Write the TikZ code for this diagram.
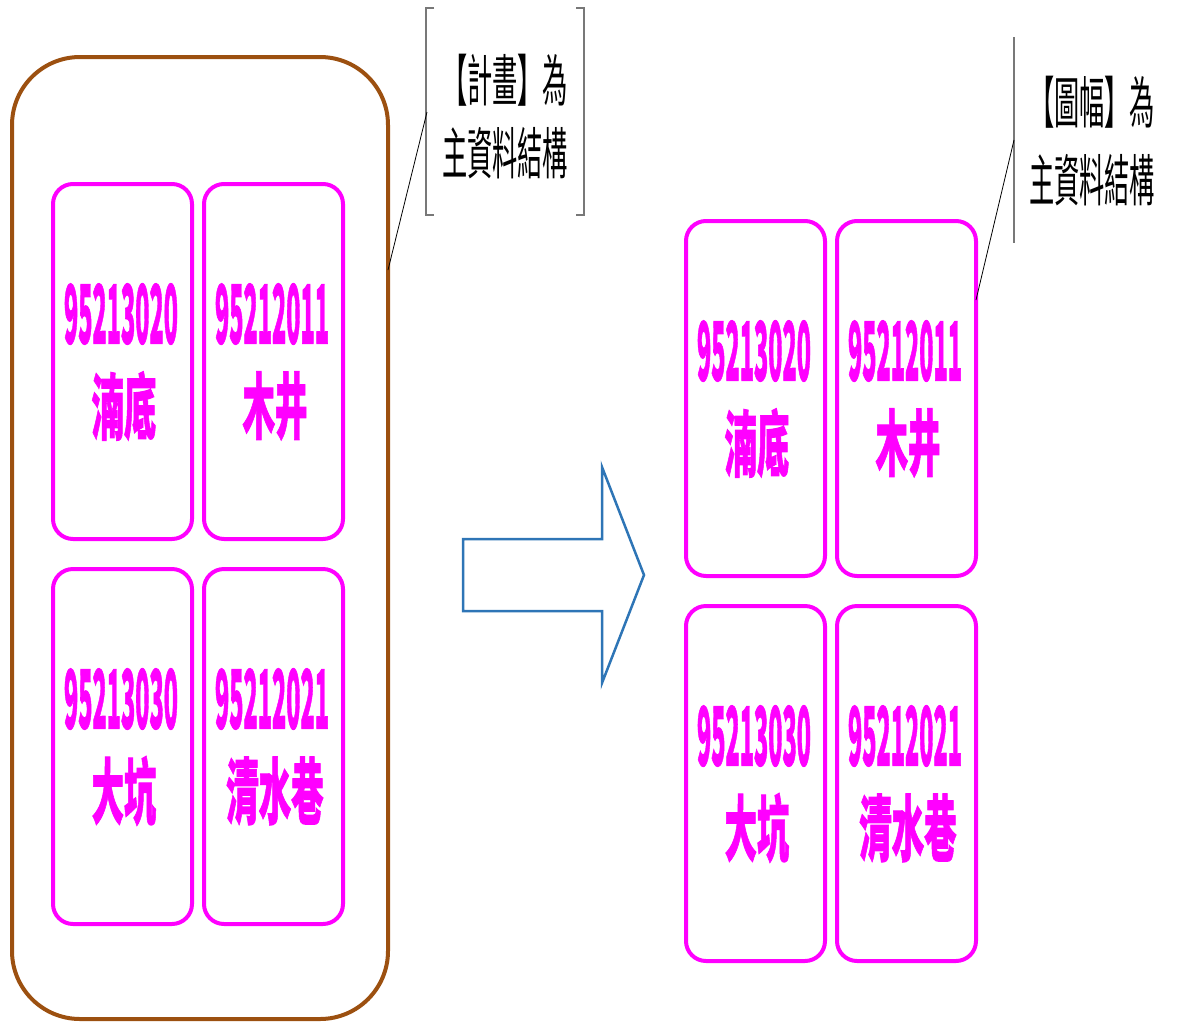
\documentclass[tikz,border=0pt]{standalone}
\usepackage{fontspec}
\newfontfamily\cjk{Noto Sans CJK TC}
\newfontfamily\cjkh[BoldFeatures={FakeBold=1.5}]{Noto Sans CJK TC}
\usepackage{graphicx}
\definecolor{brownline}{RGB}{156,80,16}
\definecolor{mag}{RGB}{255,0,255}
\definecolor{arrowblue}{RGB}{46,117,182}
\definecolor{calloutgray}{RGB}{120,120,120}
\newcommand\magbox[5]{%
  \node[mbox, anchor=north west] (#3) at (#1,#2) {};
  \node[numtext] (#3num) at (#1+68,#2+130) {\resizebox{114pt}{60pt}{\cjkh\bfseries #4}};
  \node[chartext] (#3chr) at (#1+71,#2+222) {\scalebox{0.45}[1]{\cjkh\bfseries\fontsize{72pt}{72pt}\selectfont #5}};
}
\begin{document}
\begin{tikzpicture}[x=1pt,y=-1pt,
  mbox/.style={draw=mag, line width=4pt, rounded corners=20pt, minimum width=139pt, minimum height=355pt, inner sep=0pt, outer sep=0pt},
  outerbox/.style={draw=brownline, line width=4pt, rounded corners=68pt, minimum width=376pt, minimum height=962pt, inner sep=0pt, outer sep=0pt},
  numtext/.style={text=mag, inner sep=0pt},
  chartext/.style={text=mag, inner sep=0pt},
  calltext/.style={inner sep=0pt, align=center, text=black},
  callline/.style={draw=calloutgray, line width=1.3pt},
  leader/.style={draw=black, line width=0.8pt},
  bigarrow/.style={draw=arrowblue, line width=2.5pt, line join=miter}]
\useasboundingbox (0,0) rectangle (1184,1021);

% outer brown container
\node[outerbox, anchor=north west] (outer) at (12,57) {};

% left group
\magbox{53}{184}{lTL}{95213020}{湳底}
\magbox{204}{184}{lTR}{95212011}{木井}
\magbox{53}{569}{lBL}{95213030}{大坑}
\magbox{204}{569}{lBR}{95212021}{清水巷}

% right group
\magbox{686}{221}{rTL}{95213020}{湳底}
\magbox{837}{221}{rTR}{95212011}{木井}
\magbox{686}{606}{rBL}{95213030}{大坑}
\magbox{837}{606}{rBR}{95212021}{清水巷}

% big arrow
\draw[bigarrow] (463,539) -- (602,539) -- (602,467) -- (644,575) -- (602,683) -- (602,611) -- (463,611) -- cycle;

% callout 1
\node[calltext] (call1a) at (505,80) {\scalebox{0.45}[1]{\cjk\fontsize{56pt}{56pt}\selectfont 【計畫】為}};
\node[calltext] (call1b) at (505,153) {\scalebox{0.45}[1]{\cjk\fontsize{56pt}{56pt}\selectfont 主資料結構}};
\draw[callline] (434,8) -- (426,8) -- (426,215) -- (434,215);
\draw[callline] (576,8) -- (584,8) -- (584,215) -- (576,215);
\coordinate (c1a) at (427,112);
\coordinate (c1b) at (388,270);
\draw[leader] (c1a) -- (c1b);

% callout 2
\node[calltext] (call2a) at (1092,102) {\scalebox{0.45}[1]{\cjk\fontsize{56pt}{56pt}\selectfont 【圖幅】為}};
\node[calltext] (call2b) at (1092,180) {\scalebox{0.45}[1]{\cjk\fontsize{56pt}{56pt}\selectfont 主資料結構}};
\draw[callline] (1014,37) -- (1014,243);
\coordinate (c2a) at (1014,140);
\coordinate (c2b) at (976,300);
\draw[leader] (c2a) -- (c2b);
\end{tikzpicture}
\end{document}
